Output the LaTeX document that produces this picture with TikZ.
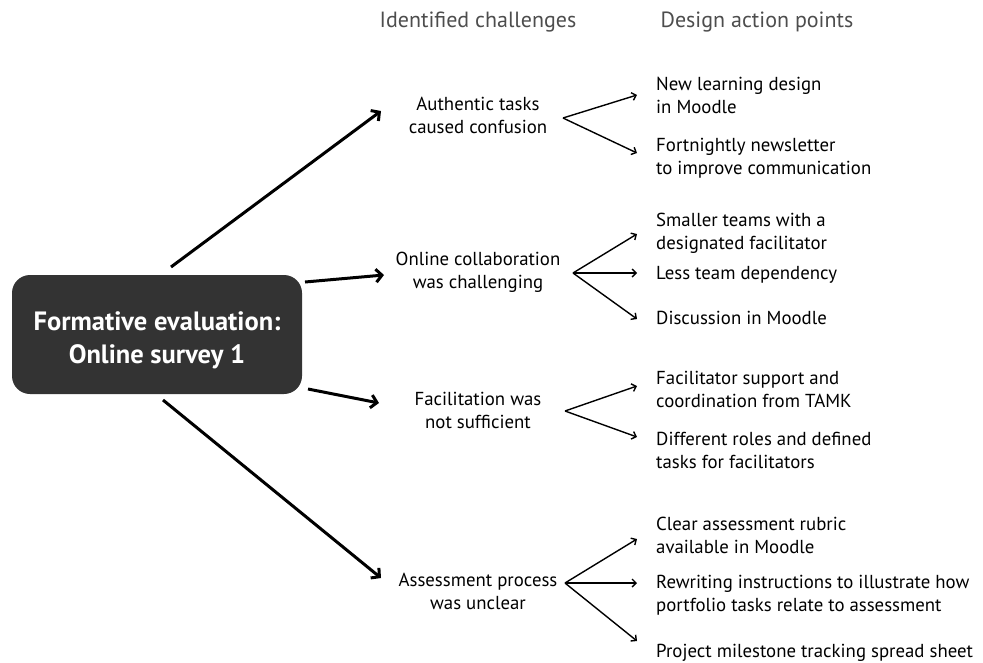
\documentclass[tikz,border=0pt]{standalone}
\usepackage{fontspec}
\setmainfont{PT Sans}
\usetikzlibrary{arrows.meta}
\definecolor{boxgray}{HTML}{333333}
\definecolor{headgray}{HTML}{4D4D4D}
\tikzset{
  challenge/.style={align=center, inner sep=0pt, font=\fontsize{18.8}{23}\selectfont},
  action/.style={align=left, anchor=west, inner sep=0pt, font=\fontsize{18.8}{23}\selectfont},
  header/.style={inner sep=0pt, text=headgray, font=\fontsize{22}{24}\selectfont},
  mainarrow/.style={line width=3pt, -{Straight Barb[length=6pt,width=13pt,line width=3pt]}},
  brancharrow/.style={line width=1.4pt, -{Straight Barb[length=4pt,width=8pt,line width=1.4pt]}},
}
\begin{document}
\begin{tikzpicture}[x=1pt,y=-1pt]
\useasboundingbox (0,0) rectangle (983,662);
\node[fill=boxgray, rounded corners=18pt, minimum width=290pt, minimum height=119pt, inner sep=0pt] (main) at (157,334.5) {};
\node[inner sep=0pt, text=white, align=center, font=\fontsize{26.5}{33}\selectfont\bfseries] (maintext) at (157,340)
  {Formative evaluation:\\Online survey 1};
\node[header] (h1) at (478,22) {Identified challenges};
\node[header] (h2) at (757,22) {Design action points};
% challenges
\node[challenge] (c1) at (478,115) {Authentic tasks\\caused confusion};
\node[challenge] (c2) at (478,272) {Online collaboration\\was challenging};
\node[challenge] (c3) at (478,410) {Facilitation was\\not sufficient};
\node[challenge] (c4) at (478,591) {Assessment process\\was unclear};
% actions
\node[action] (a1) at (656,95) {New learning design\\in Moodle};
\node[action] (a2) at (656,158) {Fortnightly newsletter\\to improve communication};
\node[action] (a3) at (656,233) {Smaller teams with a\\designated facilitator};
\node[action] (a4) at (656,275) {Less team dependency};
\node[action] (a5) at (656,318) {Discussion in Moodle};
\node[action] (a6) at (656,389) {Facilitator support and\\coordination from TAMK};
\node[action] (a7) at (656,450) {Different roles and defined\\tasks for facilitators};
\node[action] (a8) at (656,535) {Clear assessment rubric\\available in Moodle};
\node[action] (a9) at (656,595) {Rewriting instructions to illustrate how\\portfolio tasks relate to assessment};
\node[action] (a10) at (656,653) {Project milestone tracking spread sheet};
% main arrow endpoints
\coordinate (m1s) at (171,267); \coordinate (m1e) at (381,111);
\coordinate (m2s) at (305,282); \coordinate (m2e) at (384,275);
\coordinate (m3s) at (308,389); \coordinate (m3e) at (379,403);
\coordinate (m4s) at (163,400); \coordinate (m4e) at (381,578);
\draw[mainarrow] (m1s) -- (m1e);
\draw[mainarrow] (m2s) -- (m2e);
\draw[mainarrow] (m3s) -- (m3e);
\draw[mainarrow] (m4s) -- (m4e);
% branch vertices
\coordinate (v1) at (563,118);
\coordinate (v2) at (573,273);
\coordinate (v3) at (565,411);
\coordinate (v4) at (565,583);
\coordinate (t1) at (637,95); \coordinate (t2) at (637,153);
\coordinate (t3) at (637,234); \coordinate (t4) at (637,273); \coordinate (t5) at (637,319);
\coordinate (t6) at (637,386); \coordinate (t7) at (637,437);
\coordinate (t8) at (637,539); \coordinate (t9) at (637,583); \coordinate (t10) at (637,641);
\draw[brancharrow] (v1) -- (t1);
\draw[brancharrow] (v1) -- (t2);
\draw[brancharrow] (v2) -- (t3);
\draw[brancharrow] (v2) -- (t4);
\draw[brancharrow] (v2) -- (t5);
\draw[brancharrow] (v3) -- (t6);
\draw[brancharrow] (v3) -- (t7);
\draw[brancharrow] (v4) -- (t8);
\draw[brancharrow] (v4) -- (t9);
\draw[brancharrow] (v4) -- (t10);
\end{tikzpicture}
\end{document}
